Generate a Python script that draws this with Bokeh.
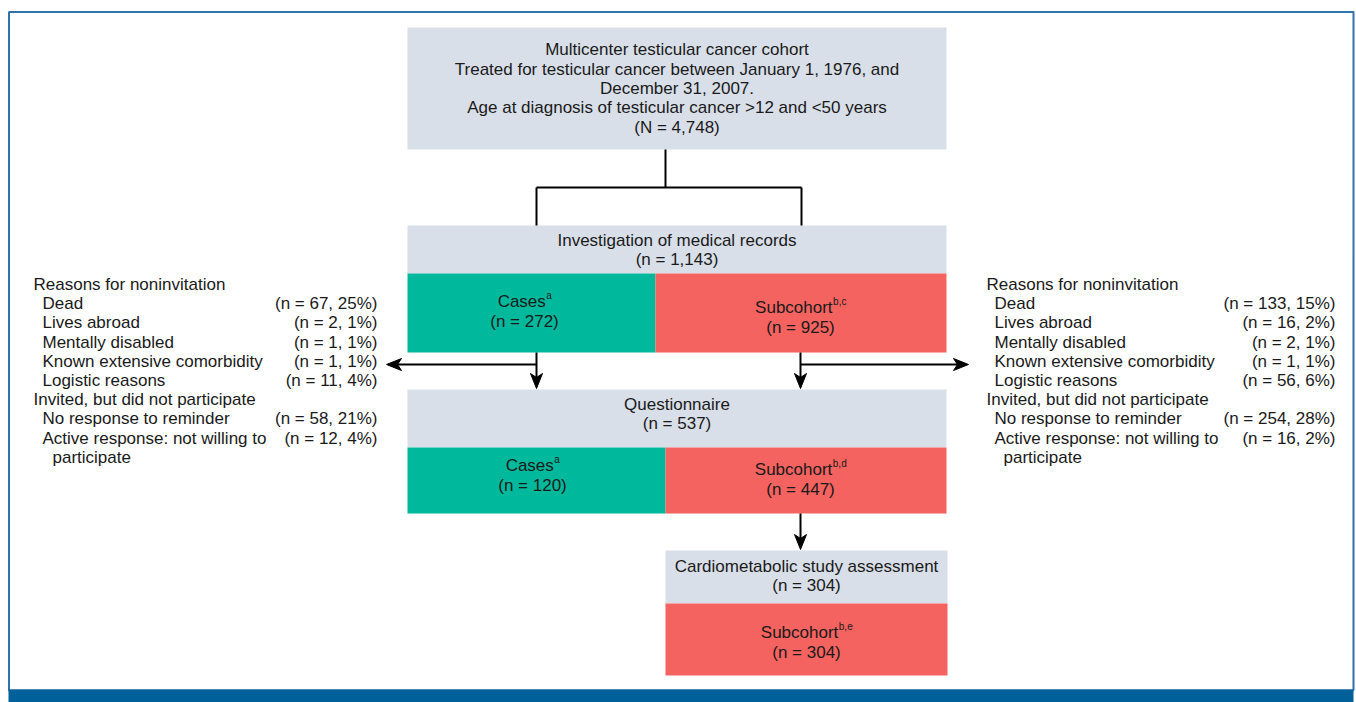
from bokeh.plotting import figure
from bokeh.models import Range1d
from bokeh.core.properties import value
from bokeh.embed import file_html
from bokeh.resources import INLINE

# ---------------- data ----------------
top_lines = [
    "Multicenter testicular cancer cohort",
    "Treated for testicular cancer between January 1, 1976, and",
    "December 31, 2007.",
    "Age at diagnosis of testicular cancer >12 and <50 years",
    "(N = 4,748)",
]
stage_titles = ["Investigation of medical records", "Questionnaire",
                "Cardiometabolic study assessment"]
stage_n = [1143, 537, 304]
cases_n = [272, 120]
cases_sup = ["a", "a"]
sub_n = [925, 447, 304]
sub_sup = ["b,c", "b,d", "b,e"]

group_head_1 = "Reasons for noninvitation"
reason_labels = ["Dead", "Lives abroad", "Mentally disabled",
                 "Known extensive comorbidity", "Logistic reasons"]
group_head_2 = "Invited, but did not participate"
declined_labels = ["No response to reminder", "Active response: not willing to"]
declined_cont = "participate"
left_n = [67, 2, 1, 1, 11, 58, 12]
left_pct = [25, 1, 1, 1, 4, 21, 4]
right_n = [133, 16, 2, 1, 56, 254, 16]
right_pct = [15, 2, 1, 1, 6, 28, 2]

# ---------------- style ----------------
FONT = value("Liberation Sans")
FS = 17
SUP = 10
TXT = "#1a1a1a"
GRAY = "#d9dfe8"
GREEN = "#00b89c"
RED = "#f46360"
BLUE = "#00609a"
FRAME = "#2f73ad"

W, H = 1356, 702
p = figure(width=W, height=H, output_backend="svg", toolbar_location=None,
           x_range=Range1d(0, W), y_range=Range1d(H, 0),
           min_border=0, background_fill_color="white",
           border_fill_color="white")
p.axis.visible = False
p.grid.visible = False
p.outline_line_color = None

ARIAL = {'C': 722, 'a': 556, 's': 500, 'e': 556, 'S': 667, 'u': 556, 'b': 556,
         'c': 500, 'o': 556, 'h': 556, 'r': 333, 't': 278, ',': 278, 'd': 556}


def tw(s, size):
    return sum(ARIAL.get(ch, 556) for ch in s) * size / 1000.0


def txt(x, y, s, align="left", size=FS, color=TXT):
    p.text(x=[x], y=[y], text=[s], text_font=FONT,
           text_font_size=f"{size}px", text_color=color,
           text_align=align, text_baseline="middle")


def box(l, r, t, b, color):
    p.quad(left=[l], right=[r], top=[t], bottom=[b], fill_color=color,
           line_color=None)


def head(tip_x, tip_y, dx, dy, L=15, Wd=6, notch=4):
    nx, ny = -dy, dx
    bx, by = tip_x - dx * L, tip_y - dy * L
    mx, my = tip_x - dx * (L - notch), tip_y - dy * (L - notch)
    p.patch([tip_x, bx + nx * Wd, mx, bx - nx * Wd],
            [tip_y, by + ny * Wd, my, by - ny * Wd],
            fill_color="black", line_color="black", line_width=1)


def label_with_sup(cx, y, main, sup):
    wm, ws = tw(main, FS), tw(sup, SUP)
    x0 = cx - (wm + ws) / 2
    txt(x0, y, main)
    txt(x0 + wm + 0.5, y - 6, sup, size=SUP)


# ---------------- frame ----------------
p.line([1353, 1353, 8.5, 8.5, 1353], [690, 11.5, 11.5, 690, 690],
       line_color=FRAME, line_width=2)
box(8, 1353, 689, 702, BLUE)

# ---------------- boxes ----------------
box(407, 946, 27, 149, GRAY)
box(407, 946, 225, 273, GRAY)
box(407, 655, 273, 352, GREEN)
box(655, 946, 273, 352, RED)
box(407, 946, 389, 447, GRAY)
box(407, 665, 447, 513, GREEN)
box(665, 946, 447, 513, RED)
box(665, 947, 550, 603, GRAY)
box(665, 947, 603, 675, RED)

# ---------------- connectors ----------------
p.multi_line(xs=[[665, 665], [536, 801], [536, 536], [801, 801]],
             ys=[[149, 187], [187, 187], [187, 225], [187, 225]],
             line_color="black", line_width=2)
p.multi_line(xs=[[536, 536], [800, 800], [536, 392], [800, 962], [800, 800]],
             ys=[[352, 384], [352, 384], [364, 364], [364, 364], [513, 544]],
             line_color="black", line_width=2)
head(536, 388, 0, 1)
head(800, 388, 0, 1)
head(386, 364, -1, 0)
head(968, 364, 1, 0)
head(800, 549, 0, 1)

# ---------------- texts ----------------
top_y = [49, 68.5, 87.5, 107, 127]
for s, y in zip(top_lines, top_y):
    txt(676.5, y, s, align="center")

stage_cx = [676.5, 676.5, 806]
stage_y = [240, 404, 566]
for t, n, cx, y in zip(stage_titles, stage_n, stage_cx, stage_y):
    txt(cx, y, t, align="center")
    txt(cx, y + 19, f"(n = {n:,})", align="center")

cases_cx = [524, 532]
cases_y = [301, 465]
for n, sp, cx, y in zip(cases_n, cases_sup, cases_cx, cases_y):
    label_with_sup(cx, y, "Cases", sp)
    txt(cx, y + 20, f"(n = {n:,})", align="center")

sub_cx = [800, 800, 806]
sub_y = [307, 469, 632]
for n, sp, cx, y in zip(sub_n, sub_sup, sub_cx, sub_y):
    label_with_sup(cx, y, "Subcohort", sp)
    txt(cx, y + 20, f"(n = {n:,})", align="center")


def side_block(x_head, x_item, x_cont, x_val, ns, pcts):
    y0, dy = 284, 19.2
    rows = ([(group_head_1, x_head)] + [(s, x_item) for s in reason_labels]
            + [(group_head_2, x_head)] + [(s, x_item) for s in declined_labels]
            + [(declined_cont, x_cont)])
    val_rows = [1, 2, 3, 4, 5, 7, 8]
    for i, (s, x) in enumerate(rows):
        txt(x, y0 + i * dy, s)
    for r, n, pc in zip(val_rows, ns, pcts):
        txt(x_val, y0 + r * dy, f"(n = {n}, {pc}%)", align="right")


side_block(33, 42, 52, 377, left_n, left_pct)
side_block(986, 994, 1003, 1335, right_n, right_pct)

open("out.html", "w").write(file_html(p, INLINE))
